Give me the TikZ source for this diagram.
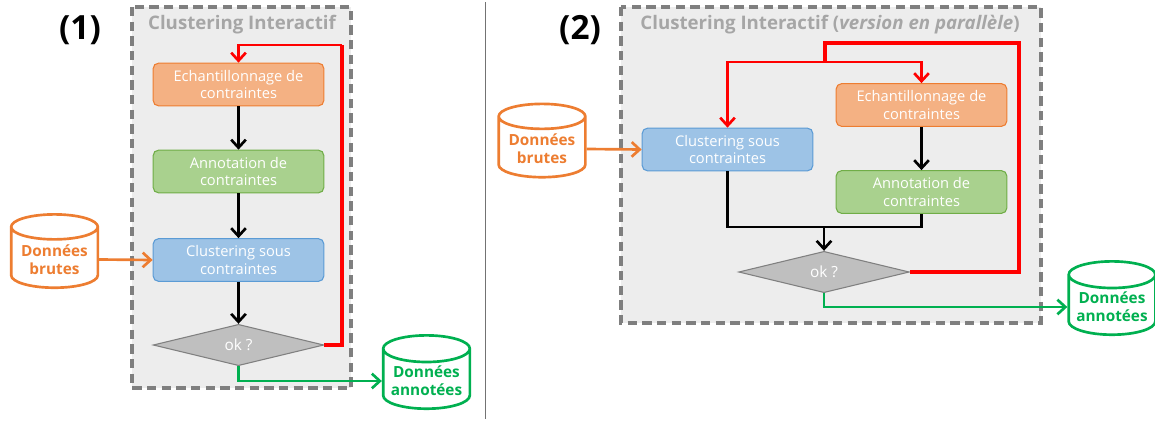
\documentclass[tikz,border=0pt]{standalone}
\usepackage{fontspec}
\setmainfont{Open Sans}
\usetikzlibrary{shapes.geometric,arrows.meta}

\definecolor{orfill}{HTML}{F4B183}
\definecolor{ordraw}{HTML}{ED7D31}
\definecolor{grfill}{HTML}{A9D18E}
\definecolor{grdraw}{HTML}{70AD47}
\definecolor{blfill}{HTML}{9DC3E6}
\definecolor{bldraw}{HTML}{5B9BD5}
\definecolor{okfill}{HTML}{BFBFBF}
\definecolor{okdraw}{HTML}{808080}
\definecolor{bggray}{HTML}{EDEDED}
\definecolor{frgray}{HTML}{7F7F7F}
\definecolor{ttgray}{HTML}{A6A6A6}
\definecolor{resgreen}{HTML}{00B050}

\tikzset{
	stepbox/.style={rectangle, rounded corners=4pt, line width=0.8pt, minimum width=128pt,
		minimum height=32pt, align=center, text=white,
		font=\fontsize{11}{13}\selectfont},
	echbox/.style={stepbox, fill=orfill, draw=ordraw},
	annbox/.style={stepbox, fill=grfill, draw=grdraw},
	clubox/.style={stepbox, fill=blfill, draw=bldraw},
	okbox/.style={diamond, aspect=4, inner sep=0pt, minimum width=128pt, minimum height=31pt,
		fill=okfill, draw=okdraw, line width=0.8pt, text=white, font=\fontsize{11.5}{13}\selectfont},
	data/.style={cylinder, shape border rotate=90, aspect=0.36, minimum width=65pt,
		minimum height=55pt, fill=white, line width=2pt, align=center, inner sep=1pt,
		font=\bfseries\fontsize{11.5}{13.5}\selectfont},
	frame/.style={fill=bggray, draw=frgray, line width=2.5pt, dash pattern=on 7pt off 4pt},
	title/.style={text=ttgray, font=\bfseries\fontsize{14}{16}\selectfont},
	panel/.style={font=\bfseries\fontsize{25}{28}\selectfont},
	flow/.style={line width=2pt, -{Straight Barb[length=6pt,width=11pt,line width=2pt]}},
	loop/.style={red, line width=2.3pt}
}

\begin{document}
\begin{tikzpicture}[x=0.75pt, y=-0.75pt]
	\useasboundingbox (0,0) rectangle (1155,421);

	% panel (1)
	\draw[frame] (132,7) rectangle (351,388);
	\node[panel] (p1) at (80,30) {(1)};
	\node[title] (t1) at (242,25) {Clustering Interactif};

	\node[echbox] (ech1) at (238.5,84.5) {Echantillonnage de\\contraintes};
	\node[annbox] (ann1) at (238.5,171.5) {Annotation de\\contraintes};
	\node[clubox] (clu1) at (238.5,260) {Clustering sous\\contraintes};
	\node[okbox] (ok1) at (238.5,345) {ok ?};
	\node[data, draw=ordraw, text=ordraw] (brut1) at (54.5,259.5) {Données\\brutes};
	\node[data, draw=resgreen, text=resgreen] (res1) at (426.5,381) {Données\\annotées};
	\coordinate (r1) at (342,45);

	\draw[flow] (ech1) -- (ann1);
	\draw[flow] (ann1) -- (clu1);
	\draw[flow] (clu1) -- (ok1);
	\draw[loop] (ok1.east) -| (r1);
	\draw[loop, flow] (r1) -| (ech1.north);
	\draw[flow, ordraw] (brut1.east) -- (clu1.west);
	\draw[flow, resgreen] (ok1.south) |- (res1.west);

	% separation
	\draw[gray!90!black, line width=0.8pt] (485.5,2) -- (485.5,419);

	% panel (2)
	\draw[frame] (621,7) rectangle (1041,323);
	\node[panel] (p2) at (580,30) {(2)};
	\node[title] (t2) at (830,25) {Clustering Interactif (\textit{version en parallèle})};

	\node[clubox] (clu2) at (727.5,149.5) {Clustering sous\\contraintes};
	\node[echbox] (ech2) at (921.5,105) {Echantillonnage de\\contraintes};
	\node[annbox] (ann2) at (921.5,192) {Annotation de\\contraintes};
	\node[okbox] (ok2) at (824,272) {ok ?};
	\node[data, draw=ordraw, text=ordraw] (brut2) at (542,149) {Données\\brutes};
	\node[data, draw=resgreen, text=resgreen] (res2) at (1112,307) {Données\\annotées};
	\coordinate (j2) at (824,227);
	\coordinate (m2) at (ann2.south |- j2);
	\coordinate (r2) at (1019,43);
	\coordinate (s2) at (825,62);

	\draw[flow] (ech2) -- (ann2);
	\draw[line width=2pt] (clu2.south) |- (m2) -- (ann2.south);
	\draw[flow] (j2) -- (ok2.north);
	\draw[loop] (ok2.east) -| (r2) -| (s2);
	\draw[loop, flow] (s2) -| (clu2.north);
	\draw[loop, flow] (s2) -| (ech2.north);
	\draw[flow, ordraw] (brut2.east) -- (clu2.west);
	\draw[flow, resgreen] (ok2.south) |- (res2.west);
\end{tikzpicture}
\end{document}
